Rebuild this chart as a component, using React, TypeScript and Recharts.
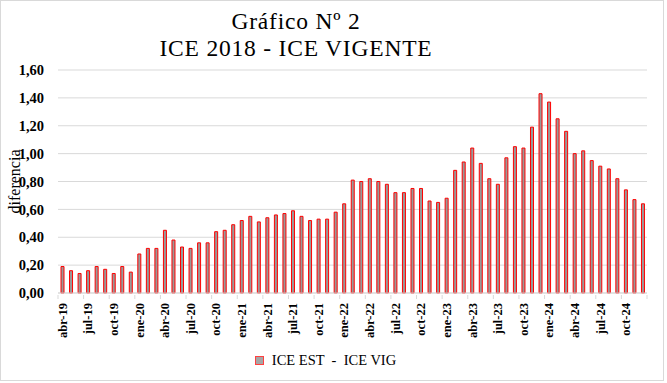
import React from "react";
import { BarChart, Bar, XAxis, YAxis, CartesianGrid, Legend } from "recharts";

const months = [
  "abr-19","may-19","jun-19","jul-19","ago-19","sep-19","oct-19","nov-19","dic-19",
  "ene-20","feb-20","mar-20","abr-20","may-20","jun-20","jul-20","ago-20","sep-20","oct-20","nov-20","dic-20",
  "ene-21","feb-21","mar-21","abr-21","may-21","jun-21","jul-21","ago-21","sep-21","oct-21","nov-21","dic-21",
  "ene-22","feb-22","mar-22","abr-22","may-22","jun-22","jul-22","ago-22","sep-22","oct-22","nov-22","dic-22",
  "ene-23","feb-23","mar-23","abr-23","may-23","jun-23","jul-23","ago-23","sep-23","oct-23","nov-23","dic-23",
  "ene-24","feb-24","mar-24","abr-24","may-24","jun-24","jul-24","ago-24","sep-24","oct-24","nov-24","dic-24",
];

const diferencia = [
  0.19, 0.16, 0.14, 0.16, 0.19, 0.17, 0.14, 0.19, 0.15,
  0.28, 0.32, 0.32, 0.45, 0.38, 0.33, 0.32, 0.36, 0.36, 0.44, 0.45, 0.49,
  0.52, 0.55, 0.51, 0.54, 0.56, 0.57, 0.59, 0.55, 0.52, 0.53, 0.53, 0.58,
  0.64, 0.81, 0.80, 0.82, 0.80, 0.78, 0.72, 0.72, 0.75, 0.75, 0.66, 0.65,
  0.68, 0.88, 0.94, 1.04, 0.93, 0.82, 0.78, 0.97, 1.05, 1.04, 1.19, 1.43,
  1.37, 1.25, 1.16, 1.00, 1.02, 0.95, 0.91, 0.89, 0.82, 0.74, 0.67, 0.64,
];

const yTicks = [0, 0.2, 0.4, 0.6, 0.8, 1.0, 1.2, 1.4, 1.6];

const titleLines = ["Gráfico Nº 2", "ICE 2018 - ICE VIGENTE"];
const seriesName = "ICE EST  -  ICE VIG";
const yLabel = "diferencia";

const data = months.map((m, i) => ({ mes: m, valor: diferencia[i] }));

const W = 667;
const H = 383;
const MARGIN = { top: 70, right: 20, bottom: 12, left: 0 };
const Y_W = 58;
const PLOT_W = W - MARGIN.left - MARGIN.right - Y_W;
const BAND = PLOT_W / data.length;
const SERIF = "'Liberation Serif', 'Times New Roman', serif";

const fmt = (v: number) => v.toFixed(2).replace(".", ",");

const XTick = (props: any) => {
  const { x, y, payload } = props;
  const isLast = payload && payload.index === data.length - 3;
  return (
    <g>
      <line x1={x - BAND / 2} y1={y} x2={x - BAND / 2} y2={y + 4} stroke="#d9d9d9" />
      {isLast && (
        <line x1={x + BAND * 2.5} y1={y} x2={x + BAND * 2.5} y2={y + 4} stroke="#d9d9d9" />
      )}
      <g transform={`translate(${x},${y})`}>
        <text
          transform="rotate(-90)"
          x={-8}
          y={0}
          dy="0.36em"
          textAnchor="end"
          fontFamily={SERIF}
          fontWeight="bold"
          fontSize={12.5}
          fill="#000"
        >
          {payload.value}
        </text>
      </g>
    </g>
  );
};

const LegendContent = () => (
  <div
    style={{
      height: 22,
      display: "flex",
      alignItems: "center",
      justifyContent: "center",
      fontFamily: SERIF,
      fontSize: 14.5,
      color: "#000",
      paddingLeft: 4,
    }}
  >
    <span
      style={{
        display: "inline-block",
        width: 7,
        height: 7,
        background: "#a6a6a6",
        border: "1px solid #ff4040",
        marginRight: 8,
      }}
    />
    <span style={{ whiteSpace: "pre" }}>{seriesName}</span>
  </div>
);

const titleStyle: React.CSSProperties = {
  position: "absolute",
  left: 0,
  width: 592,
  textAlign: "center",
  fontFamily: SERIF,
  fontSize: 23.5,
  lineHeight: "27px",
  letterSpacing: 0.8,
  color: "#000",
  whiteSpace: "nowrap",
};

export default function App() {
  return (
    <div style={{ position: "relative", width: W, height: H, background: "#fff" }}>
      <style>{"body{margin:0;}"}</style>
      <div
        style={{
          position: "absolute",
          left: 0,
          top: 0,
          width: 664,
          height: 381,
          border: "1px solid #d9d9d9",
          boxSizing: "border-box",
          pointerEvents: "none",
        }}
      />
      <div style={{ ...titleStyle, top: 8 }}>{titleLines[0]}</div>
      <div style={{ ...titleStyle, top: 35 }}>{titleLines[1]}</div>
      <BarChart width={W} height={H} data={data} margin={MARGIN} barCategoryGap={0}>
        <CartesianGrid vertical={false} stroke="#d9d9d9" />
        <XAxis
          dataKey="mes"
          interval={2}
          height={56}
          tickSize={0}
          tickLine={false}
          axisLine={{ stroke: "#d9d9d9" }}
          tick={<XTick />}
        />
        <YAxis
          width={Y_W}
          domain={[0, 1.6]}
          ticks={yTicks}
          tickFormatter={fmt}
          axisLine={false}
          tickLine={false}
          tickSize={0}
          tickMargin={14}
          tick={{ fontFamily: SERIF, fontWeight: "bold", fontSize: 14.5, fill: "#000" }}
          label={{
            value: yLabel,
            angle: -90,
            position: "insideLeft",
            offset: 14,
            style: { fontFamily: SERIF, fontSize: 16, fill: "#000", textAnchor: "middle" },
          }}
        />
        <Legend verticalAlign="bottom" content={<LegendContent />} />
        <Bar
          dataKey="valor"
          name={seriesName}
          barSize={3}
          fill="#999999"
          stroke="#ff0000"
          strokeWidth={1}
          isAnimationActive={false}
        />
      </BarChart>
    </div>
  );
}
